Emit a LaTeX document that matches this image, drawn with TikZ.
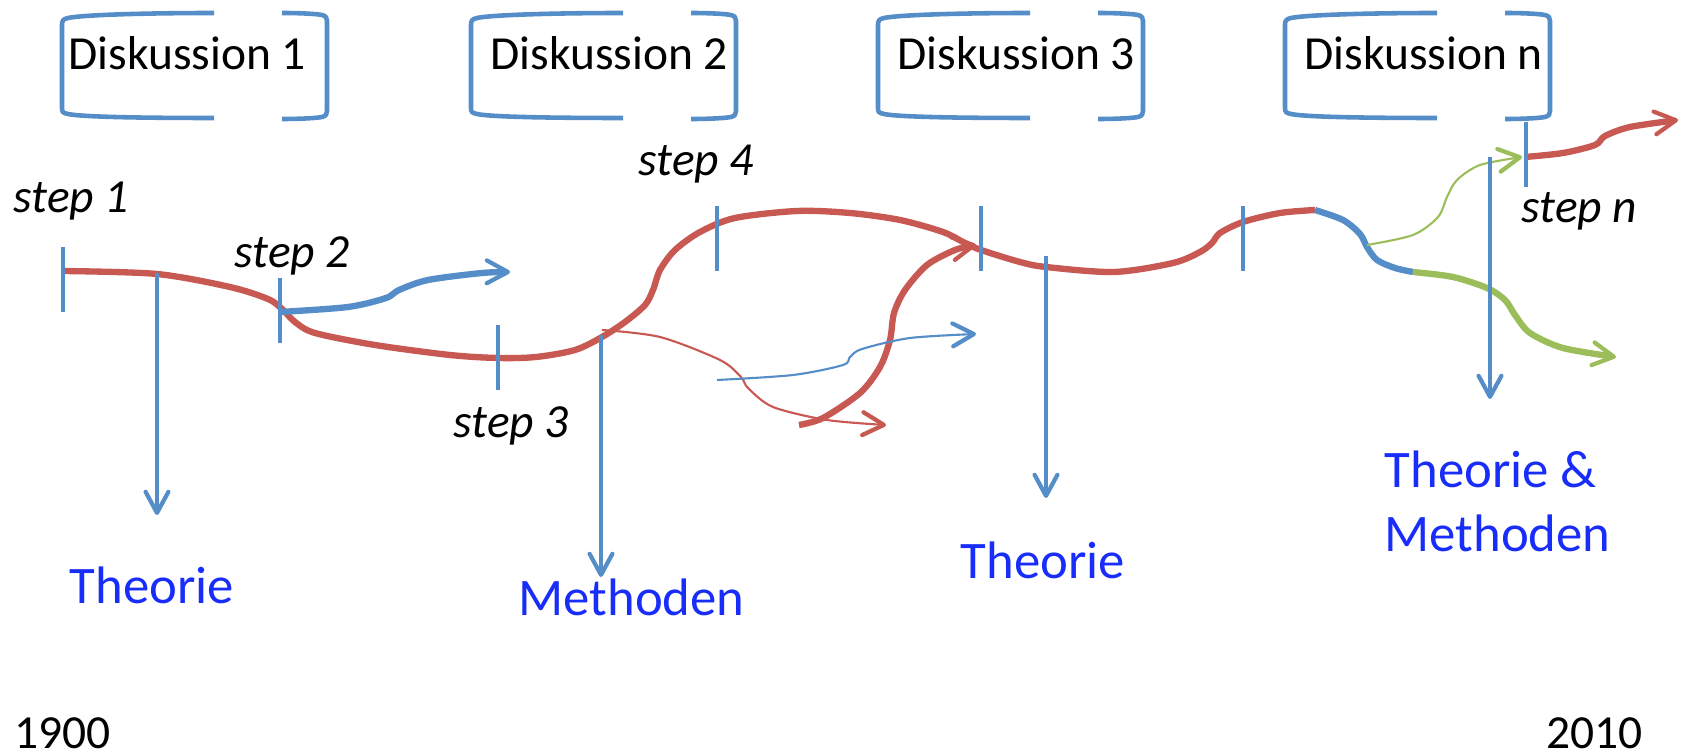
\documentclass[tikz,border=0pt]{standalone}
\usepackage{fontspec}
\setmainfont{Carlito}
\usetikzlibrary{arrows.meta}
\definecolor{dred}{RGB}{200,88,82}
\definecolor{dblue}{RGB}{84,141,200}
\definecolor{dgreen}{RGB}{155,190,90}
\definecolor{tblue}{RGB}{25,45,250}
\begin{document}
\begin{tikzpicture}[x=0.01cm, y=-0.01cm,
    >={Straight Barb[length=6pt, width=6.5pt, line width=1.2pt, round]},
    klammer/.style={dblue, line width=1.3pt},
    strich/.style={dblue, line width=1.2pt},
    weg/.style={dred, line width=1.8pt},
    duenn/.style={line width=0.6pt},
    lbl/.style={font=\fontsize{13.5}{16}\selectfont, inner sep=0pt, anchor=base west},
    stp/.style={font=\fontsize{13.5}{16}\selectfont\itshape, inner sep=0pt, anchor=base west},
    ergebnis/.style={tblue, font=\fontsize{15}{18}\selectfont, inner sep=0pt, anchor=base west}]
\useasboundingbox (0,0) rectangle (1682,755);
% Diskussionen
\foreach \x/\t/\d in {62/1/6, 471/2/19, 878/3/19, 1285/n/19}
{
    \draw[klammer] (\x+152,13) .. controls (\x+80,13) and (\x+20,15) .. (\x+6,18) .. controls (\x+1,19) and (\x,21) .. (\x,25) -- (\x,108) .. controls (\x,112) and (\x+1,113) .. (\x+6,114) .. controls (\x+20,117) and (\x+80,118) .. (\x+152,118);
    \draw[klammer] (\x+220,13) .. controls (\x+240,13) and (\x+255,14) .. (\x+260,15) .. controls (\x+264,16) and (\x+265,18) .. (\x+265,21) -- (\x+265,111) .. controls (\x+265,114) and (\x+264,116) .. (\x+260,117) .. controls (\x+255,118) and (\x+240,119) .. (\x+220,119);
    \node[lbl] (d\t) at (\x+\d,70) {Diskussion \t};
}
% Hauptweg
\draw[weg] plot[smooth] coordinates {(63,271) (157,274) (230,287) (268,299) (282,309) (295,322) (315,333) (375,345) (450,355) (498,358) (536,357) (575,350) (602,337) (625,322) (645,305) (653,290) (660,270) (675,250) (700,232) (735,218) (797,211) (850,213) (900,220) (943,232) (965,243) (981,250) (1020,262) (1046,267) (1114,272) (1173,263) (1200,252) (1212,243) (1220,233) (1243,222) (1280,213) (1315,210)};
\draw[dblue, line width=1.8pt] plot[smooth] coordinates {(1315,210) (1343,220) (1360,234) (1367,247) (1377,260) (1395,268) (1413,272)};
\draw[dgreen, line width=1.8pt, ->] plot[smooth] coordinates {(1413,272) (1453,277) (1487,288) (1505,300) (1515,315) (1530,333) (1563,348) (1616,357)};
\draw[dgreen, duenn, ->] plot[smooth] coordinates {(1367,245) (1413,235) (1438,217) (1447,197) (1457,180) (1480,165) (1522,157)};
\draw[weg, ->] plot[smooth] coordinates {(1525,157) (1563,153) (1595,145) (1605,136) (1630,127) (1678,120)};
% Abzweigungen
\draw[dblue, line width=1.8pt, ->] plot[smooth] coordinates {(280,312) (348,307) (386,298) (399,290) (428,280) (482,273) (510,272)};
\draw[weg, ->] plot[smooth] coordinates {(799,425) (823,418) (860,393) (880,367) (890,340) (894,313) (905,290) (927,265) (955,250) (976,245)};
\draw[dred, duenn, ->] plot[smooth] coordinates {(602,330) (660,337) (720,360) (741,377) (748,388) (773,407) (827,420) (886,425)};
\draw[dblue, duenn, ->] plot[smooth] coordinates {(717,380) (793,375) (843,365) (850,357) (862,349) (910,338) (976,334)};
% steps
\foreach \x/\y in {63/247, 280/278, 498/325, 717/206, 981/206, 1243/206, 1526/122}
    \draw[strich] (\x,\y) -- ++(0,65);
\node[stp] (s1) at (13,213) {step 1};
\node[stp] (s2) at (234,268) {step 2};
\node[stp] (s3) at (453,437) {step 3};
\node[stp] (s4) at (638,176) {step 4};
\node[stp] (sn) at (1521,223) {step n};
% Ergebnisse
\foreach \n/\x/\a/\b in {1/157/273/515, 2/601/335/577, 3/1046/256/498, 4/1490/157/399}
{
    \coordinate (o\n) at (\x,\a);
    \coordinate (u\n) at (\x,\b);
    \draw[strich, ->] (o\n) -- (u\n);
}
\node[ergebnis] (th1) at (69,603) {Theorie};
\node[ergebnis] (me1) at (518,615) {Methoden};
\node[ergebnis] (th2) at (960,578) {Theorie};
\node[ergebnis] (tm1) at (1384,487) {Theorie \&};
\node[ergebnis] (tm2) at (1384,551) {Methoden};
% Zeitachse
\node[lbl] (y1) at (14,748) {1900};
\node[lbl] (y2) at (1546,748) {2010};
\end{tikzpicture}
\end{document}
